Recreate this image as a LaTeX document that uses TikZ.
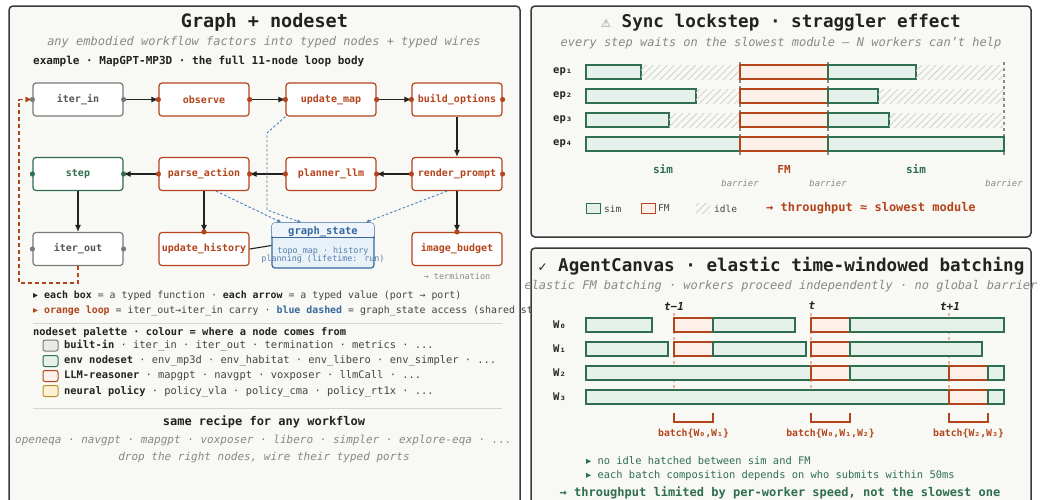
\documentclass[tikz,border=0pt]{standalone}
\usepackage{fontspec}
\setmainfont{DejaVu Sans Mono}
\newfontfamily\symfont{DejaVu Sans}
\usetikzlibrary{arrows.meta,calc,patterns.meta}

\newcommand{\fsz}[1]{\fontsize{#1}{#1}\selectfont}
\newcommand{\tri}{{\symfont ▸}}

\definecolor{ink}{HTML}{222222}
\definecolor{txt}{HTML}{444444}
\definecolor{muted}{HTML}{888888}
\definecolor{panelfill}{HTML}{F8F8F4}
\definecolor{panelline}{HTML}{3A3A3A}
\definecolor{orng}{HTML}{B4441C}
\definecolor{grn}{HTML}{2F6E50}
\definecolor{blu}{HTML}{3569A0}
\definecolor{bluln}{HTML}{4A80B5}
\definecolor{bgray}{HTML}{7A7A7A}
\definecolor{ngray}{HTML}{555555}
\definecolor{simfill}{HTML}{E7F1EB}
\definecolor{fmfill}{HTML}{FDF0E9}
\definecolor{gold}{HTML}{B8921E}
\definecolor{goldfill}{HTML}{FCF1D4}
\definecolor{lgfill}{HTML}{E9E9E5}
\definecolor{sepc}{HTML}{D5D5D0}
\definecolor{hatch}{HTML}{D4D4CF}
\definecolor{tick}{HTML}{E8B29C}
\definecolor{gsfill}{HTML}{E8F0F8}
\definecolor{gshead}{HTML}{EEF4FA}

% bars of the two timelines
\newcommand{\simbar}[3]{\draw[simb] (#1,#3-7) rectangle (#2,#3+7);}
\newcommand{\fmbar}[3]{\draw[fmb] (#1,#3-7) rectangle (#2,#3+7);}
\newcommand{\idlebar}[3]{\fill[idleb] (#1,#3-7) rectangle (#2,#3+7);}

\begin{document}
\begin{tikzpicture}[x=1pt,y=-1pt,
  panel/.style={fill=panelfill, draw=panelline, line width=1.5pt, rounded corners=4pt},
  fn/.style={rectangle, rounded corners=3pt, minimum width=90pt, minimum height=33pt,
    fill=white, line width=1.2pt, font=\fsz{10}\bfseries, inner sep=0pt},
  builtin/.style={fn, draw=bgray, text=ngray},
  envn/.style={fn, draw=grn, text=grn},
  llm/.style={fn, draw=orng, text=orng},
  wire/.style={-{Latex[length=7pt,width=6pt]}, line width=1.1pt, draw=ink},
  share/.style={-{Latex[length=4pt,width=3.5pt]}, line width=0.9pt, draw=bluln, dash pattern=on 2.5pt off 2pt},
  carry/.style={-{Latex[length=7pt,width=6pt]}, line width=1.3pt, draw=orng, dash pattern=on 4pt off 3pt},
  lbl/.style={inner sep=0pt, anchor=west},
  simb/.style={fill=simfill, draw=grn, line width=1.1pt},
  fmb/.style={fill=fmfill, draw=orng, line width=1.1pt},
  idleb/.style={pattern={Lines[angle=45,distance=5pt,line width=0.9pt]}, pattern color=hatch},
  barrier/.style={draw=muted, line width=1.2pt, dash pattern=on 3pt off 3pt},
  window/.style={draw=tick, line width=1.2pt, dash pattern=on 3pt off 3pt},
  sepline/.style={draw=sepc, line width=0.8pt},
  swatch/.style={rounded corners=2pt, line width=1pt},
]
\useasboundingbox (0,0) rectangle (1041,499);
\fill[white] (0,0) rectangle (1041,499);

% ---------------- left panel: graph + nodeset ----------------
\draw[panel] (9,6) rectangle (520,530);
\node[font=\fsz{18.5}\bfseries, text=ink] (lt) at (264.5,22) {Graph + nodeset};
\node[font=\fsz{12}\itshape, text=muted] (ls) at (264,42) {any embodied workflow factors into typed nodes + typed wires};
\node[lbl, font=\fsz{11}\bfseries, text=ink] (lx) at (33,61) {example · MapGPT-MP3D · the full 11-node loop body};

% nodes
\node[builtin] (iterin)  at (78,99.5)  {iter\_in};
\node[llm]     (observe) at (204,99.5) {observe};
\node[llm]     (updmap)  at (331,99.5) {update\_map};
\node[llm]     (build)   at (457,99.5) {build\_options};
\node[envn]    (step)    at (78,174)   {step};
\node[llm]     (parse)   at (204,174)  {parse\_action};
\node[llm]     (planner) at (331,174)  {planner\_llm};
\node[llm]     (render)  at (457,174)  {render\_prompt};
\node[builtin] (iterout) at (78,249)   {iter\_out};
\node[llm]     (updhist) at (204,249)  {update\_history};
\node[llm]     (imgbud)  at (457,249)  {image\_budget};

% shared state node
\node[rectangle, rounded corners=3pt, minimum width=102pt, minimum height=45pt,
      fill=gsfill, draw=blu, line width=1.2pt, inner sep=0pt] (gs) at (323,245.5) {};
\fill[gshead, rounded corners=2pt] ($(gs.north west)+(0.8,0.8)$) rectangle ($(gs.north east)+(-0.8,15)$);
\draw[blu, line width=0.9pt] ($(gs.north west)+(0,15.5)$) -- ($(gs.north east)+(0,15.5)$);
\node[font=\fsz{10.5}\bfseries, text=blu] (gst) at (323,231.5) {graph\_state};
\node[font=\fsz{8.4}, text=blu!85] (gsa) at (323,251) {topo\_map · history};
\node[font=\fsz{8.4}, text=blu!85] (gsb) at (323,259.5) {planning (lifetime: run)};

% typed wires
\draw[wire] (iterin.east) -- (observe.west);
\draw[wire] (observe.east) -- (updmap.west);
\draw[wire] (updmap.east) -- (build.west);
\draw[wire] (build.south) -- (render.north);
\draw[wire] (render.west) -- (planner.east);
\draw[wire] (planner.west) -- (parse.east);
\draw[wire] (parse.west) -- (step.east);
\draw[wire] (step.south) -- (iterout.north);
\draw[wire] (parse.south) -- (updhist.north);
\draw[wire] (render.south) -- (imgbud.north);
\draw[ink, line width=1.1pt] (updhist.east) -- (gs.west);

% graph_state access
\coordinate (bk1) at (267,133);
\coordinate (bk2) at (267,210);
\draw[share] (updmap.south west) -- (bk1) -- (bk2) -- ($(gs.north west)+(30,0)$);
\draw[share] ($(parse.south)+(12,0)$) -- ($(gs.north west)+(10,0)$);
\draw[share] ($(render.south)+(-10,0)$) -- ($(gs.north east)+(-9,0)$);

% iteration carry loop
\coordinate (lp) at (19,283);
\draw[carry] (iterout.south) |- (lp) |- (iterin.west);

% ports
\foreach \n in {iterin,iterout} {
  \fill[bgray] (\n.west) circle (2.6pt); \fill[bgray] (\n.east) circle (2.6pt);}
\foreach \n in {observe,updmap,build,parse,planner,render} {
  \fill[orng] (\n.west) circle (2.6pt); \fill[orng] (\n.east) circle (2.6pt);}
\fill[grn] (step.west) circle (2.6pt); \fill[grn] (step.east) circle (2.6pt);
\fill[orng] (updhist.north) circle (2.6pt);
\fill[orng] (imgbud.north) circle (2.6pt);

\node[font=\fsz{8.5}, text=muted] (term) at (457,276) {→ termination};

% key
\node[lbl, font=\fsz{9.9}, text=txt] (k1) at (33,296)
  {{\color{ink}\tri} {\color{ink}\bfseries each box} = a typed function · {\color{ink}\bfseries each arrow} = a typed value (port → port)};
\node[lbl, font=\fsz{9.9}, text=txt] (k2) at (33,311)
  {{\color{orng}\tri} {\color{orng}\bfseries orange loop} = iter\_out→iter\_in carry · {\color{blu}\bfseries blue dashed} = graph\_state access (shared state)};
\draw[sepline] (33,323) -- (502,323);
\node[lbl, font=\fsz{10.4}\bfseries, text=ink] (pal) at (33,333) {nodeset palette · colour = where a node comes from};

\draw[swatch, fill=lgfill, draw=bgray] (43,340) rectangle (58,351);
\draw[swatch, fill=simfill, draw=grn] (43,355.5) rectangle (58,366.5);
\draw[swatch, fill=fmfill, draw=orng] (43,370.5) rectangle (58,381.5);
\draw[swatch, fill=goldfill, draw=gold] (43,385.5) rectangle (58,396.5);
\node[lbl, font=\fsz{10.4}, text=txt] (p1) at (64,345.5) {{\color{ink}\bfseries built-in} · iter\_in · iter\_out · termination · metrics · ...};
\node[lbl, font=\fsz{10.4}, text=txt] (p2) at (64,361) {{\color{ink}\bfseries env nodeset} · env\_mp3d · env\_habitat · env\_libero · env\_simpler · ...};
\node[lbl, font=\fsz{10.4}, text=txt] (p3) at (64,376) {{\color{ink}\bfseries LLM-reasoner} · mapgpt · navgpt · voxposer · llmCall · ...};
\node[lbl, font=\fsz{10.4}, text=txt] (p4) at (64,391) {{\color{ink}\bfseries neural policy} · policy\_vla · policy\_cma · policy\_rt1x · ...};
\draw[sepline] (33,408) -- (502,408);

\node[font=\fsz{12}\bfseries, text=ink] (rc) at (264,422) {same recipe for any workflow};
\node[font=\fsz{11}\itshape, text=muted] (rl) at (263.5,440.5) {openeqa · navgpt · mapgpt · voxposer · libero · simpler · explore-eqa · ...};
\node[font=\fsz{11}\itshape, text=muted] (rd) at (264,457.5) {drop the right nodes, wire their typed ports};

% ---------------- right top panel: sync lockstep ----------------
\draw[panel] (531,6) rectangle (1031,237);
\node[font=\fsz{17.6}\bfseries, text=ink] (st) at (781,23) {{\symfont\fsz{11}\mdseries\color{muted}⚠}\ Sync lockstep · straggler effect};
\node[font=\fsz{12}\itshape, text=muted] (ss) at (781,43.5) {every step waits on the slowest module — N workers can't help};

\foreach \x in {740,828,1004} { \draw[barrier] (\x,62) -- (\x,157); }

\foreach \y/\l in {72/ep₁,96/ep₂,120/ep₃,144/ep₄} {
  \node[lbl, font=\fsz{10.5}\bfseries, text=ink] at (553,\y) {\l}; }

% ep1
\simbar{586}{641}{72}  \idlebar{641}{740}{72} \fmbar{740}{828}{72} \simbar{828}{916}{72} \idlebar{916}{1004}{72}
% ep2
\simbar{586}{696}{96}  \idlebar{696}{740}{96} \fmbar{740}{828}{96} \simbar{828}{878}{96} \idlebar{878}{1004}{96}
% ep3
\simbar{586}{669}{120} \idlebar{669}{740}{120} \fmbar{740}{828}{120} \simbar{828}{889}{120} \idlebar{889}{1004}{120}
% ep4
\simbar{586}{740}{144} \fmbar{740}{828}{144} \simbar{828}{1004}{144}

\node[font=\fsz{11}\bfseries, text=grn] (ph1) at (663,169) {sim};
\node[font=\fsz{11}\bfseries, text=orng] (ph2) at (784,169) {FM};
\node[font=\fsz{11}\bfseries, text=grn] (ph3) at (916,169) {sim};
\foreach \x in {740,828,1004} {
  \node[font=\fsz{8.8}\itshape, text=muted] at (\x,183) {barrier}; }

\draw[line width=1pt, fill=simfill, draw=grn] (586,203) rectangle (600,213);
\node[lbl, font=\fsz{9.5}, text=txt] (lg1) at (604,208.5) {sim};
\draw[line width=1pt, fill=fmfill, draw=orng] (641,203) rectangle (655,213);
\node[lbl, font=\fsz{9.5}, text=txt] (lg2) at (658,208.5) {FM};
\fill[idleb] (696,203) rectangle (710,213);
\node[lbl, font=\fsz{9.5}, text=txt] (lg3) at (714,208.5) {idle};
\node[lbl, font=\fsz{12}\bfseries, text=orng] (thr) at (766,208) {→ throughput ≈ slowest module};

% ---------------- right bottom panel: elastic batching ----------------
\draw[panel] (531,248) rectangle (1031,530);
\node[font=\fsz{17.6}\bfseries, text=ink] (bt) at (781,266) {{\symfont\fsz{12}\mdseries ✓}\ AgentCanvas · elastic time-windowed batching};
\node[font=\fsz{12}\itshape, text=muted] (bs) at (781,286) {elastic FM batching · workers proceed independently · no global barrier};

\node[font=\fsz{11}\bfseries\itshape, text=ink] (t0) at (674,306) {t−1};
\node[font=\fsz{11}\bfseries\itshape, text=ink] (t1) at (812,306) {t};
\node[font=\fsz{11}\bfseries\itshape, text=ink] (t2) at (950,306) {t+1};
\foreach \x in {674,811,949} { \draw[window] (\x,313) -- (\x,392); }

\foreach \y/\l in {325/W₀,349/W₁,373/W₂,397/W₃} {
  \node[lbl, font=\fsz{10.5}\bfseries, text=ink] at (553,\y) {\l}; }

% W0
\simbar{586}{652}{325} \fmbar{674}{713}{325} \simbar{713}{795}{325} \fmbar{811}{850}{325} \simbar{850}{1004}{325}
% W1
\simbar{586}{668}{349} \fmbar{674}{713}{349} \simbar{713}{806}{349} \fmbar{811}{850}{349} \simbar{850}{982}{349}
% W2
\simbar{586}{811}{373} \fmbar{811}{850}{373} \simbar{850}{949}{373} \fmbar{949}{988}{373} \simbar{988}{1004}{373}
% W3
\simbar{586}{949}{397} \fmbar{949}{988}{397} \simbar{988}{1004}{397}

% batch brackets
\foreach \a/\b in {674/713,811/850,949/988} {
  \draw[orng, line width=1.1pt] (\a,413) -- (\a,422) -- (\b,422) -- (\b,413); }
\node[font=\fsz{9.8}\bfseries, text=orng] (b1) at (693.5,433.5) {batch\{W₀,W₁\}};
\node[font=\fsz{9.8}\bfseries, text=orng] (b2) at (830.5,433.5) {batch\{W₀,W₁,W₂\}};
\node[font=\fsz{9.8}\bfseries, text=orng] (b3) at (968.5,433.5) {batch\{W₂,W₃\}};

\node[lbl, font=\fsz{10.4}, text=grn] (n1) at (586,460.5) {\tri\ no idle hatched between sim and FM};
\node[lbl, font=\fsz{10.4}, text=grn] (n2) at (586,476) {\tri\ each batch composition depends on who submits within 50ms};
\node[font=\fsz{12}\bfseries, text=grn] (fin) at (780,492.5) {→ throughput limited by per-worker speed, not the slowest one};
\end{tikzpicture}
\end{document}
